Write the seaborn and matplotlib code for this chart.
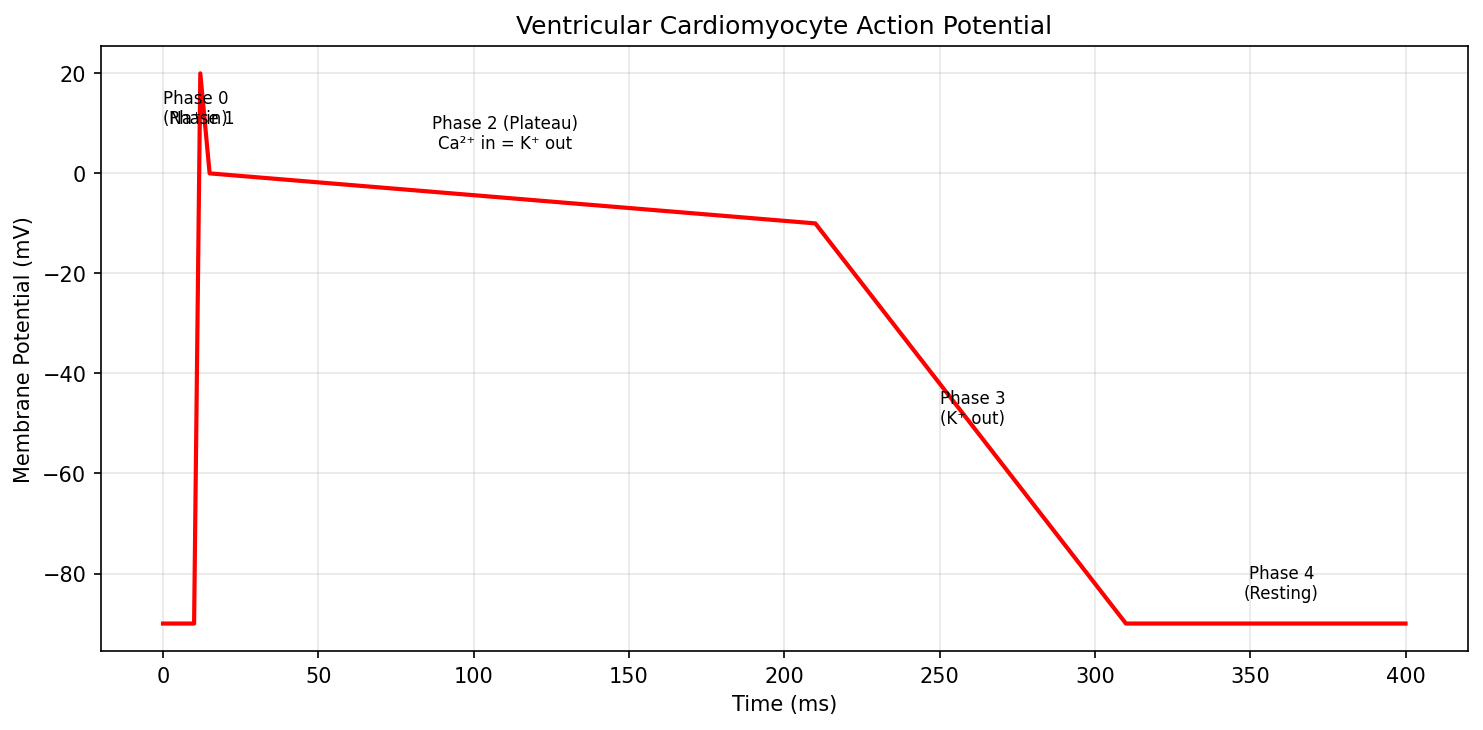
import numpy as np
import pandas as pd
import seaborn as sns
import matplotlib.pyplot as plt

# action potential corner points (ms, mV)
time_ms = [0, 10, 12, 15, 210, 310, 400]
voltage_mv = [-90, -90, 20, 0, -10, -90, -90]

phase_labels = ['Phase 0\n(Na⁺ in)', 'Phase 1', 'Phase 2 (Plateau)\nCa²⁺ in = K⁺ out',
                'Phase 3\n(K⁺ out)', 'Phase 4\n(Resting)']
label_x = [0, 2, 110, 250, 360]
label_y = [10, 10, 5, -50, -85]
label_ha = ['left', 'left', 'center', 'left', 'center']

df = pd.DataFrame({'Time (ms)': time_ms, 'Membrane Potential (mV)': voltage_mv})

plt.rcParams['font.family'] = ['DejaVu Sans']

fig, ax = plt.subplots(figsize=(9.893, 4.873), dpi=150)
sns.lineplot(data=df, x='Time (ms)', y='Membrane Potential (mV)', ax=ax,
             color='red', linewidth=2, sort=False)

for txt, x, y, ha in zip(phase_labels, label_x, label_y, label_ha):
    ax.text(x, y, txt, fontsize=8, ha=ha, multialignment='center' if ha == 'center' else 'left')

ax.set_title('Ventricular Cardiomyocyte Action Potential')
ax.grid(True, alpha=0.3)
fig.subplots_adjust(left=0.068, right=0.989, top=0.936, bottom=0.108)
fig.savefig('out.png', dpi=150)
